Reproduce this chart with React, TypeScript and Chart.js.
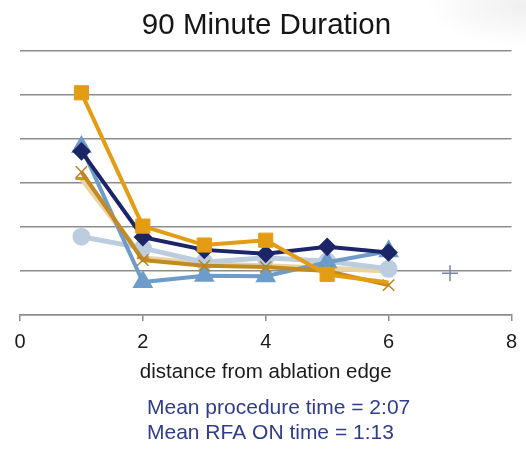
import React, { useEffect, useRef } from "react";
import { Chart, registerables } from "chart.js";

Chart.register(...registerables);

// ---- data ----
const chartTitle = "90 Minute Duration";
const xAxisTitle = "distance from ablation edge";
const notes = ["Mean procedure time = 2:07", "Mean RFA ON time = 1:13"];

const distances = [1, 2, 3, 4, 5, 6];
const xTicks = [0, 2, 4, 6, 8];

const seriesSquare = [5.05, 2.02, 1.59, 1.7, 0.92, 0.74];
const seriesDiamond = [3.72, 1.77, 1.48, 1.39, 1.55, 1.42];
const seriesTriangle = [3.82, 0.75, 0.89, 0.88, 1.2, 1.45];
const seriesCrossRot = [3.25, 1.25, 1.12, 1.09, 1.0, 0.68];
const seriesDash = [3.1, 1.3, 1.16, 1.12, 1.06, 1.0];
const seriesCircle = [1.78, 1.52, 1.2, 1.3, 1.22, 1.05];

const plusDistances = [7];
const seriesPlus = [0.95];

const FONT = "'Liberation Sans', Arial, sans-serif";

const toPoints = (xs: number[], ys: number[]) => xs.map((x, i) => ({ x, y: ys[i] }));

const notesPlugin = {
  id: "notesPlugin",
  afterDraw(chart: any) {
    const ctx = chart.ctx;
    ctx.save();
    ctx.font = `21px ${FONT}`;
    ctx.fillStyle = "#2F3D8A";
    ctx.textAlign = "left";
    ctx.textBaseline = "alphabetic";
    ctx.fillText(notes[0], 147, 414);
    ctx.fillText(notes[1], 147, 439);
    ctx.restore();
  },
};

export default function App() {
  const canvasRef = useRef<HTMLCanvasElement | null>(null);

  useEffect(() => {
    document.body.style.margin = "0";
    const canvas = canvasRef.current;
    if (!canvas) return;

    const chart = new Chart(canvas, {
      type: "line",
      data: {
        datasets: [
          {
            label: "A",
            data: toPoints(distances, seriesSquare),
            borderColor: "#E49C12",
            backgroundColor: "#E49C12",
            borderWidth: 4,
            pointStyle: "rect",
            pointRadius: [10, 10, 10, 10, 10, 0],
            pointBackgroundColor: "#E49C12",
            pointBorderColor: "#E49C12",
            pointBorderWidth: 1,
            order: 1,
          },
          {
            label: "B",
            data: toPoints(distances, seriesDiamond),
            borderColor: "#1C2568",
            backgroundColor: "#1C2568",
            borderWidth: 4,
            pointStyle: "rectRot",
            pointRadius: 6.5,
            pointBackgroundColor: "#1C2568",
            pointBorderColor: "#1C2568",
            order: 2,
          },
          {
            label: "C",
            data: toPoints(distances, seriesCrossRot),
            borderColor: "#C18A22",
            backgroundColor: "#C18A22",
            borderWidth: 4,
            pointStyle: "crossRot",
            pointRadius: 8,
            pointBorderColor: "#B98322",
            pointBorderWidth: 1.5,
            order: 3,
          },
          {
            label: "D",
            data: toPoints(distances, seriesTriangle),
            borderColor: "#6D9CCA",
            backgroundColor: "#6D9CCA",
            borderWidth: 4,
            pointStyle: "triangle",
            pointRadius: 8,
            pointBackgroundColor: "#6D9CCA",
            pointBorderColor: "#6D9CCA",
            order: 4,
          },
          {
            label: "E",
            data: toPoints(distances, seriesCircle),
            borderColor: "#BDCDE0",
            backgroundColor: "#BDCDE0",
            borderWidth: 5,
            pointStyle: "circle",
            pointRadius: 6.5,
            pointBackgroundColor: "#BDCDE0",
            pointBorderColor: "#BDCDE0",
            order: 5,
          },
          {
            label: "F",
            data: toPoints(distances, seriesDash),
            borderColor: "#E8D3A2",
            backgroundColor: "#E8D3A2",
            borderWidth: 5,
            pointStyle: "line",
            pointRadius: 6,
            pointBorderColor: "#D6931A",
            pointBorderWidth: 3,
            order: 6,
          },
          {
            label: "G",
            data: toPoints(plusDistances, seriesPlus),
            borderColor: "#7B84A6",
            backgroundColor: "#7B84A6",
            showLine: false,
            pointStyle: "cross",
            pointRadius: 8,
            pointBorderColor: "#7B84A6",
            pointBorderWidth: 1.5,
            order: 7,
          },
        ],
      },
      options: {
        responsive: false,
        animation: false,
        layout: { padding: { left: 20, right: 13, top: 0, bottom: 70 } },
        plugins: {
          legend: { display: false },
          tooltip: { enabled: false },
          title: {
            display: true,
            text: chartTitle,
            color: "#151515",
            font: { family: FONT, size: 29.5, weight: "normal" },
            padding: { top: 8, bottom: 7.6 },
          },
        },
        scales: {
          x: {
            type: "linear",
            min: 0,
            max: 8,
            afterBuildTicks: (s: any) => {
              s.ticks = xTicks.map((v) => ({ value: v }));
            },
            afterFit: (s: any) => {
              s.height = 70;
            },
            grid: {
              display: true,
              drawOnChartArea: false,
              drawTicks: true,
              tickLength: 6,
              color: "#8C8C8C",
              lineWidth: 1.5,
            },
            border: { display: true, color: "#8C8C8C", width: 1.5 },
            ticks: {
              color: "#1a1a1a",
              font: { family: FONT, size: 20 },
              padding: 9,
              maxRotation: 0,
            },
            title: {
              display: true,
              text: xAxisTitle,
              color: "#1a1a1a",
              font: { family: FONT, size: 20.5 },
              padding: { top: 0, bottom: 0 },
            },
          },
          y: {
            type: "linear",
            min: 0,
            max: 6,
            afterFit: (s: any) => {
              s.width = 0;
            },
            ticks: { display: false, stepSize: 1 },
            border: { display: false },
            grid: {
              display: true,
              drawTicks: false,
              color: "#8C8C8C",
              lineWidth: 1.5,
            },
          },
        },
      },
      plugins: [notesPlugin],
    } as any);

    return () => chart.destroy();
  }, []);

  return (
    <div
      style={{
        width: 526,
        height: 455,
        background:
          "radial-gradient(ellipse 100px 40px at 100% 6px, rgba(210,210,210,0.35), rgba(255,255,255,0)), #fff",
      }}
    >
      <canvas ref={canvasRef} width={526} height={455} />
    </div>
  );
}
